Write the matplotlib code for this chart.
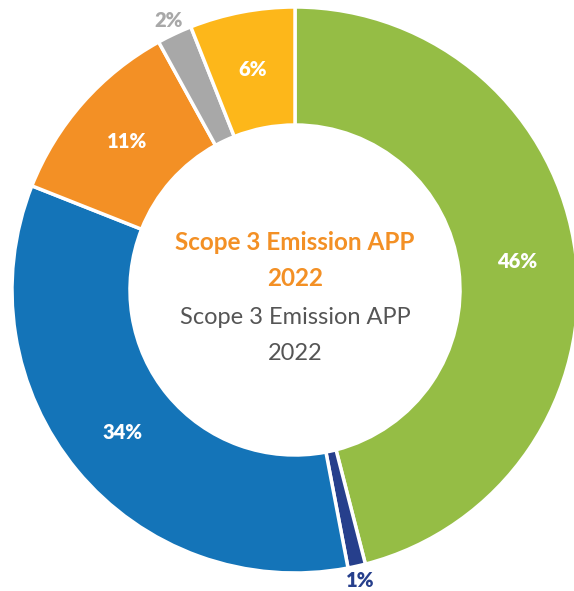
import numpy as np
import matplotlib.pyplot as plt

# slices, clockwise from 12 o'clock
shares = [46, 1, 34, 11, 2, 6]
labels = ["46%", "1%", "34%", "11%", "2%", "6%"]
colors = ["#95BD45", "#263F8C", "#1474B8", "#F39025", "#A8A8A8", "#FDB71A"]
outside = [False, True, False, False, True, False]
outside_color = {"1%": "#263F8C", "2%": "#A8A8A8"}

title = "Scope 3 Emission APP\n2022"

W, H = 574, 591
CX, CY = 295, H - 290
R_OUT, R_IN = 283, 165

plt.rcParams["font.family"] = ["Lato", "DejaVu Sans"]

fig = plt.figure(figsize=(W / 100, H / 100), dpi=100)
ax = fig.add_axes([0, 0, 1, 1])

wedges, _ = ax.pie(shares, colors=colors, startangle=90, counterclock=False,
                   center=(CX, CY), radius=R_OUT, frame=True,
                   wedgeprops=dict(width=R_OUT - R_IN, edgecolor="white", linewidth=2.5))
ax.set_xlim(0, W)
ax.set_ylim(0, H)
ax.set_aspect("equal")
ax.axis("off")

# percentage labels at wedge mid-angles
total = sum(shares)
start = 0.0
for s, lab, out in zip(shares, labels, outside):
    mid = np.deg2rad((start + s / 2) / total * 360)
    start += s
    r = 298 if out else (R_OUT + R_IN) / 2
    x = CX + r * np.sin(mid)
    y = CY + r * np.cos(mid)
    col = outside_color.get(lab, "white") if out else "white"
    ax.text(x, y, lab, ha="center", va="center", fontsize=14.5, fontweight="heavy", color=col)

# centre text
t1, t2 = title.split("\n")
ax.text(CX, H - 242, t1, ha="center", va="center", fontsize=17.5, fontweight="bold", color="#F39025")
ax.text(CX, H - 279, t2, ha="center", va="center", fontsize=17.5, fontweight="bold", color="#F39025")
ax.text(CX, H - 317, t1, ha="center", va="center", fontsize=17, color="#555555")
ax.text(CX, H - 354, t2, ha="center", va="center", fontsize=17, color="#555555")

fig.savefig("out.png", dpi=100)
